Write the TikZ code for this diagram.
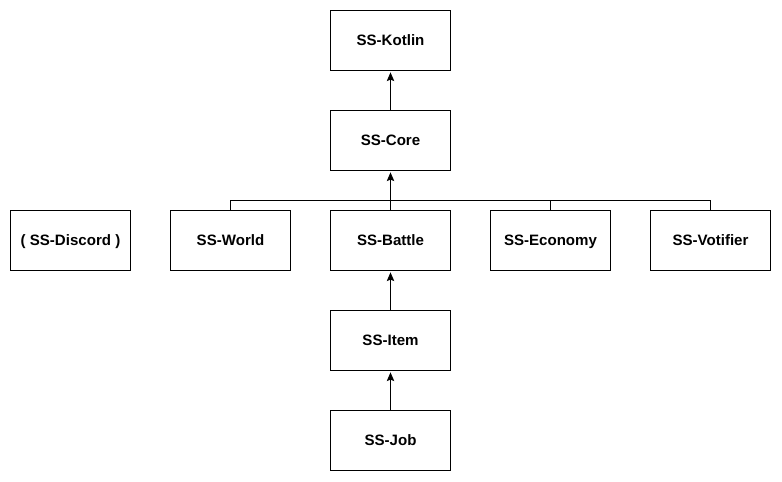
\documentclass[tikz,border=0pt]{standalone}
\usepackage{fontspec}
\setmainfont{Liberation Sans}
\usetikzlibrary{arrows.meta}

\begin{document}
\begin{tikzpicture}[x=0.75pt,y=-0.75pt,
	every node/.style={black},
	module/.style={draw,line width=0.75pt,minimum width=90pt,minimum height=45pt,inner sep=0pt,text height=8.2pt,text depth=0.8pt,font=\bfseries\fontsize{11.3}{13}\selectfont},
	dep/.style={line width=0.75pt,shorten >=1pt,-{Stealth[length=6.5pt,width=5.5pt,inset=1pt]}},
	link/.style={line width=0.75pt}]
	\useasboundingbox (0,0) rectangle (782,482);

	\node[module] (kotlin) at (390.5,40.5) {SS-Kotlin};
	\node[module] (core) at (390.5,140.5) {SS-Core};

	\node[module] (discord) at (70.5,240.5) {( SS-Discord )};
	\node[module] (world) at (230.5,240.5) {SS-World};
	\node[module] (battle) at (390.5,240.5) {SS-Battle};
	\node[module] (economy) at (550.5,240.5) {SS-Economy};
	\node[module] (votifier) at (710.5,240.5) {SS-Votifier};

	\node[module] (item) at (390.5,340.5) {SS-Item};
	\node[module] (job) at (390.5,440.5) {SS-Job};

	\coordinate (bus) at (390.5,200.5);

	\draw[link] (world.north) |- (bus);
	\draw[link] (economy.north) |- (bus);
	\draw[link] (votifier.north) |- (bus);

	\draw[dep] (battle) -- (core);
	\draw[dep] (core) -- (kotlin);
	\draw[dep] (item) -- (battle);
	\draw[dep] (job) -- (item);
\end{tikzpicture}
\end{document}
